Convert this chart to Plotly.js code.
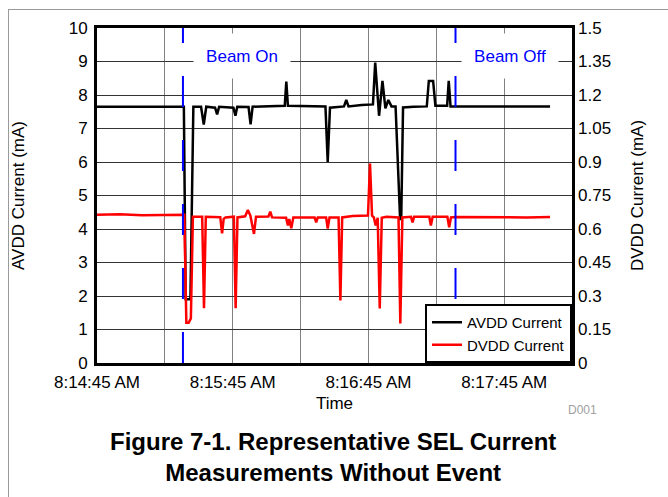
<!DOCTYPE html>
<html>
<head>
<meta charset="utf-8">
<script src="https://cdn.plot.ly/plotly-3.0.1.min.js"></script>
<style>
  html, body { margin: 0; padding: 0; background: #fff; }
  #frame { position: absolute; left: 8px; top: 9px; width: 700px; height: 600px; border: 1px solid #9a9a9a; }
  #chart { position: absolute; left: 0; top: 0; width: 668px; height: 497px; }
</style>
</head>
<body>
<div id="frame"></div>
<div id="chart"></div>
<script>
// Time in seconds after 8:14:45 AM
var avddTime = [0, 38.4, 39.2, 41.3, 42.6, 46.0, 47.2, 48.3, 52.2, 53.1, 54.0, 60.3, 61.2, 62.0, 67.0, 67.9, 68.8, 74, 80, 83.0, 83.7, 84.4, 101.0, 102.0, 103.0, 109.2, 110.2, 111.2, 117, 120.5, 122.0, 123.0, 124.7, 126.2, 127.5, 128.8, 130.2, 132.0, 134.0, 134.5, 135.3, 140, 145.8, 146.7, 148.6, 149.6, 154.8, 155.5, 156.3, 170, 185, 200.3];
var avddValue = [7.65, 7.65, 1.9, 1.9, 7.65, 7.65, 7.12, 7.65, 7.62, 7.42, 7.65, 7.62, 7.38, 7.65, 7.64, 7.12, 7.65, 7.66, 7.67, 7.68, 8.4, 7.68, 7.66, 6.0, 7.62, 7.66, 7.85, 7.66, 7.7, 7.72, 7.72, 8.97, 7.38, 8.42, 7.6, 7.85, 7.66, 7.66, 4.3, 4.3, 7.63, 7.65, 7.66, 8.42, 8.42, 7.68, 7.68, 8.42, 7.66, 7.66, 7.66, 7.66];

var dvddTime = [0, 10, 20, 30, 38.6, 39.5, 40.5, 41.5, 42.4, 46.5, 47.3, 48.1, 54.5, 55.3, 56.0, 56.8, 60.5, 61.3, 62.1, 65.5, 66.7, 67.8, 69.4, 70.3, 75.8, 76.6, 77.4, 83.6, 84.4, 85.0, 85.9, 86.8, 96.2, 96.9, 97.6, 101.3, 102.0, 102.8, 106.8, 107.6, 108.4, 113, 118, 119.8, 120.7, 121.6, 122.4, 123.2, 124.1, 125.0, 125.9, 128, 133.3, 134.1, 135.0, 138.8, 139.5, 140.2, 146.9, 147.6, 148.4, 154.9, 155.7, 156.5, 158.5, 170, 180, 190, 200.3];
var dvddValue = [0.664, 0.666, 0.662, 0.664, 0.664, 0.18, 0.18, 0.2, 0.655, 0.655, 0.245, 0.655, 0.653, 0.58, 0.645, 0.652, 0.655, 0.245, 0.652, 0.657, 0.685, 0.66, 0.578, 0.655, 0.656, 0.678, 0.652, 0.65, 0.616, 0.645, 0.603, 0.652, 0.652, 0.63, 0.652, 0.652, 0.602, 0.652, 0.652, 0.28, 0.652, 0.658, 0.66, 0.66, 0.893, 0.66, 0.652, 0.616, 0.65, 0.244, 0.65, 0.655, 0.652, 0.177, 0.652, 0.655, 0.63, 0.655, 0.655, 0.616, 0.655, 0.655, 0.608, 0.652, 0.654, 0.653, 0.655, 0.652, 0.654];

var xTickVals = [0, 30, 60, 90, 120, 150, 180, 210];
var xTickText = ["8:14:45 AM", "", "8:15:45 AM", "", "8:16:45 AM", "", "8:17:45 AM", ""];
var yLeftTicks = [0, 1, 2, 3, 4, 5, 6, 7, 8, 9, 10];
var yRightTicks = [0, 0.15, 0.3, 0.45, 0.6, 0.75, 0.9, 1.05, 1.2, 1.35, 1.5];
var yRightText = ["0", "0.15", "0.3", "0.45", "0.6", "0.75", "0.9", "1.05", "1.2", "1.35", "1.5"];

var beamTimes = [38, 158.5];
var beamLabels = ["Beam On", "Beam Off"];
var beamLabelTimes = [64.0, 182.6];

var FONT = '"Liberation Sans", Arial, sans-serif';

var traces = [
  { x: avddTime, y: avddValue, name: 'AVDD Current', type: 'scatter', mode: 'lines',
    line: { color: '#000000', width: 2.5 }, yaxis: 'y' },
  { x: dvddTime, y: dvddValue, name: 'DVDD Current', type: 'scatter', mode: 'lines',
    line: { color: '#ff0000', width: 2.5 }, yaxis: 'y2' }
];

var shapes = beamTimes.map(function (t) {
  return { type: 'line', xref: 'x', yref: 'y', x0: t, x1: t, y0: 0, y1: 10,
    line: { color: '#0000ff', width: 2, dash: '31px,33px' }, layer: 'above' };
});

var annotations = beamLabels.map(function (s, i) {
  return { text: s, xref: 'x', yref: 'y', x: beamLabelTimes[i], y: 9.15, showarrow: false,
    font: { family: FONT, size: 17, color: '#0000ff' }, bgcolor: '#ffffff',
    width: 92, height: 40, borderpad: 2, valign: 'middle' };
});
annotations.push({ text: 'D001', xref: 'paper', yref: 'paper', x: 1.023, y: -0.14,
  xanchor: 'center', yanchor: 'middle', showarrow: false,
  font: { family: FONT, size: 12, color: '#a0a0a0' } });
annotations.push({ text: '<b>Figure 7-1. Representative SEL Current<br>Measurements Without Event</b>',
  xref: 'paper', yref: 'paper', x: 0.497, y: -0.28, xanchor: 'center', yanchor: 'middle', showarrow: false,
  font: { family: FONT, size: 24, color: '#000000' } });

var layout = {
  width: 668, height: 497,
  margin: { l: 97, r: 96, t: 28, b: 134 },
  paper_bgcolor: 'rgba(0,0,0,0)', plot_bgcolor: '#ffffff',
  font: { family: FONT, size: 17, color: '#000000' },
  showlegend: true,
  legend: { x: 1, y: 0, xanchor: 'right', yanchor: 'bottom', bgcolor: '#ffffff',
    bordercolor: '#000000', borderwidth: 2, font: { family: FONT, size: 15 },
    tracegroupgap: 0 },
  xaxis: { range: [0, 210], tickmode: 'array', tickvals: xTickVals, ticktext: xTickText,
    showgrid: true, gridcolor: '#808080', gridwidth: 1, zeroline: false,
    showline: true, linecolor: '#000000', linewidth: 3, mirror: true, ticks: '',
    tickfont: { family: FONT, size: 17 }, ticklabelstandoff: 2,
    title: { text: 'Time', font: { family: FONT, size: 17 }, standoff: 6 } },
  yaxis: { range: [0, 10], tickmode: 'array', tickvals: yLeftTicks,
    showgrid: true, gridcolor: '#333333', gridwidth: 1, zeroline: false,
    showline: true, linecolor: '#000000', linewidth: 3, mirror: true, ticks: '',
    tickfont: { family: FONT, size: 17 }, ticklabelstandoff: 3,
    title: { text: 'AVDD Current (mA)', font: { family: FONT, size: 17 }, standoff: 40 } },
  yaxis2: { range: [0, 1.5], overlaying: 'y', side: 'right', tickmode: 'array',
    tickvals: yRightTicks, ticktext: yRightText, showgrid: false, zeroline: false,
    showline: false, ticks: '', tickfont: { family: FONT, size: 17 }, ticklabelstandoff: 5,
    title: { text: 'DVDD Current (mA)', font: { family: FONT, size: 17 }, standoff: 21 } },
  shapes: shapes,
  annotations: annotations
};

Plotly.newPlot('chart', traces, layout, { displayModeBar: false, staticPlot: true });
</script>
</body>
</html>
